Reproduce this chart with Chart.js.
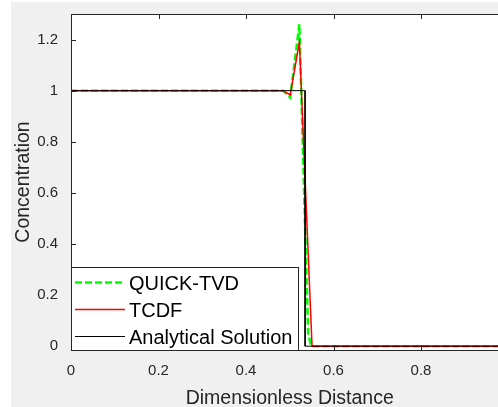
<!DOCTYPE html>
<html>
<head>
<meta charset="utf-8">
<script src="https://cdn.jsdelivr.net/npm/chart.js@4.4.1/dist/chart.umd.min.js"></script>
<style>
html, body { margin: 0; padding: 0; overflow: hidden; width: 498px; height: 407px; background: #ffffff; }
#wrap { position: absolute; left: 0; top: 0; width: 530px; height: 407px; }
canvas { display: block; }
</style>
</head>
<body>
<div id="wrap"><canvas id="c" width="530" height="407"></canvas></div>
<script>
// ---- data ----
const xTicks = [0, 0.2, 0.4, 0.6, 0.8, 1];
const yTicks = [0, 0.2, 0.4, 0.6, 0.8, 1, 1.2];

const quickX = [0, 0.485, 0.501, 0.522, 0.542, 0.549, 1];
const quickY = [1, 1, 0.972, 1.26, 0.05, 0, 0];

const tcdfX = [0, 0.485, 0.501, 0.522, 0.551, 1];
const tcdfY = [1, 1, 0.983, 1.19, 0, 0];

const anaX = [0, 0.535, 0.535, 1];
const anaY = [1, 1, 0, 0];

const seriesNames = ['QUICK-TVD', 'TCDF', 'Analytical Solution'];

// ---- helpers ----
function pts(xs, ys) { return xs.map((x, i) => ({ x: x, y: ys[i] })); }

const AXC = '#262626';
const FONT = '"Liberation Sans", Arial, sans-serif';

const plotArea = { left: 71, top: 14, bottom: 350, right: 508.5 };
const CW = 530, CH = 407;

const bgPlugin = {
  id: 'bg',
  beforeDraw(chart) {
    const ctx = chart.ctx;
    const a = chart.chartArea;
    ctx.save();
    ctx.fillStyle = '#f0f0f0';
    ctx.fillRect(0, 0, CW, CH);
    ctx.fillStyle = '#ffffff';
    ctx.fillRect(0, 0, 11, CH);
    ctx.fillRect(0, 0, CW, 2);
    ctx.fillRect(a.left, a.top, a.right - a.left, a.bottom - a.top);
    ctx.restore();
  },
  afterDatasetsDraw(chart) {
    const ctx = chart.ctx;
    const a = chart.chartArea;
    const xs = chart.scales.x, ys = chart.scales.y;
    ctx.save();
    ctx.strokeStyle = AXC;
    ctx.lineWidth = 1;
    // box
    ctx.beginPath();
    ctx.moveTo(a.left + 0.5, a.bottom + 0.5);
    ctx.lineTo(a.left + 0.5, a.top + 0.5);
    ctx.lineTo(a.right + 0.5, a.top + 0.5);
    ctx.lineTo(a.right + 0.5, a.bottom + 0.5);
    ctx.lineTo(a.left + 0.5, a.bottom + 0.5);
    ctx.stroke();
    // ticks (inward)
    const tl = 5;
    ctx.beginPath();
    xTicks.forEach(v => {
      const px = Math.round(xs.getPixelForValue(v)) + 0.5;
      ctx.moveTo(px, a.bottom); ctx.lineTo(px, a.bottom - tl);
      ctx.moveTo(px, a.top); ctx.lineTo(px, a.top + tl);
    });
    yTicks.forEach(v => {
      const py = Math.round(ys.getPixelForValue(v)) + 0.5;
      ctx.moveTo(a.left, py); ctx.lineTo(a.left + tl, py);
      ctx.moveTo(a.right, py); ctx.lineTo(a.right - tl, py);
    });
    ctx.stroke();

    // legend
    const L = { x: 71, y: 267, w: 227, h: 83 };
    ctx.fillStyle = '#ffffff';
    ctx.fillRect(L.x, L.y, L.w, L.h);
    ctx.strokeStyle = AXC;
    ctx.strokeRect(L.x + 0.5, L.y + 0.5, L.w, L.h);
    const rows = [283, 310, 337];
    const ds = chart.data.datasets;
    ctx.font = '20px ' + FONT;
    ctx.textBaseline = 'middle';
    ctx.textAlign = 'left';
    rows.forEach((ry, i) => {
      const d = ds[i];
      ctx.save();
      ctx.strokeStyle = d.borderColor;
      ctx.lineWidth = d.borderWidth;
      ctx.setLineDash(d.borderDash || []);
      ctx.beginPath();
      ctx.moveTo(75, ry - 0.5);
      ctx.lineTo(125, ry - 0.5);
      ctx.stroke();
      ctx.restore();
      ctx.fillStyle = '#000000';
      ctx.fillText(seriesNames[i], 129, ry + 1);
    });
    ctx.restore();
  }
};

const chart = new Chart(document.getElementById('c'), {
  type: 'line',
  data: {
    datasets: [
      { label: seriesNames[0], data: pts(quickX, quickY), borderColor: '#00ff00', borderWidth: 2.5, borderDash: [7, 3], pointRadius: 0, tension: 0, order: 3 },
      { label: seriesNames[1], data: pts(tcdfX, tcdfY), borderColor: '#ff0000', borderWidth: 1.5, pointRadius: 0, tension: 0, order: 2 },
      { label: seriesNames[2], data: pts(anaX, anaY), borderColor: '#000000', borderWidth: 1, pointRadius: 0, tension: 0, order: 1 }
    ]
  },
  options: {
    responsive: false,
    animation: false,
    devicePixelRatio: 1,
    layout: { padding: { top: plotArea.top, right: CW - plotArea.right, left: 0, bottom: 0 } },
    plugins: { legend: { display: false }, tooltip: { enabled: false } },
    scales: {
      x: {
        type: 'linear', min: 0, max: 1,
        grid: { display: false, drawTicks: false },
        border: { display: false },
        afterBuildTicks(s) { s.ticks = xTicks.map(v => ({ value: v })); },
        afterFit(s) { s.height = CH - plotArea.bottom; s.paddingLeft = 0; s.paddingRight = 0; s.paddingTop = 0; s.paddingBottom = 0; },
        ticks: { color: AXC, font: { family: FONT, size: 15 }, padding: 12, maxRotation: 0, autoSkip: false, callback: v => String(v) },
        title: { display: true, text: 'Dimensionless Distance', color: AXC, font: { family: FONT, size: 19.5 }, padding: { top: 0, bottom: -3 } }
      },
      y: {
        type: 'linear', min: -0.015, max: 1.3,
        grid: { display: false, drawTicks: false },
        border: { display: false },
        afterBuildTicks(s) { s.ticks = yTicks.map(v => ({ value: v })); },
        afterFit(s) { s.width = plotArea.left; s.paddingLeft = 0; s.paddingRight = 0; s.paddingTop = 0; s.paddingBottom = 0; },
        ticks: { color: AXC, font: { family: FONT, size: 15 }, padding: 13, autoSkip: false, callback: v => String(v) },
        title: { display: true, text: 'Concentration', color: AXC, font: { family: FONT, size: 19.5 }, padding: { top: 12, bottom: 0 } }
      }
    }
  },
  plugins: [bgPlugin]
});
</script>
</body>
</html>
